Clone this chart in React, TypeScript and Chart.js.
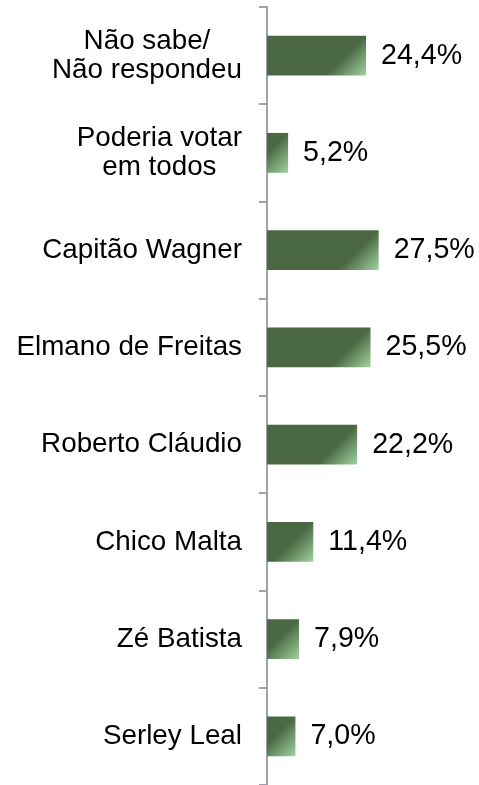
import React, { useEffect, useRef } from "react";
import { Chart, registerables } from "chart.js";

Chart.register(...registerables);

const CATEGORIES: string[][] = [
  ["Não sabe/", "Não respondeu"],
  ["Poderia votar", "em todos"],
  ["Capitão Wagner"],
  ["Elmano de Freitas"],
  ["Roberto Cláudio"],
  ["Chico Malta"],
  ["Zé Batista"],
  ["Serley Leal"],
];
const VALUES: number[] = [24.4, 5.2, 27.5, 25.5, 22.2, 11.4, 7.9, 7.0];
const VALUE_LABELS: string[] = ["24,4%", "5,2%", "27,5%", "25,5%", "22,2%", "11,4%", "7,9%", "7,0%"];

const FONT_FAMILY = "'Liberation Sans', Arial, sans-serif";
const FONT_SIZE = 27.8;
const VALUE_FONT_SIZE = 28.6;
const LINE_HEIGHT = 29;
const DARK = "#4a6843";
const LIGHT = "#a2d4a0";
const AXIS_COLOR = "#9ea3ab";

export default function App() {
  const canvasRef = useRef<HTMLCanvasElement | null>(null);

  useEffect(() => {
    const canvas = canvasRef.current;
    if (!canvas) return;

    const labelsPlugin = {
      id: "customLabels",
      afterDatasetsDraw(chart: any) {
        const ctx = chart.ctx;
        const yScale = chart.scales.y;
        ctx.save();
        ctx.font = `${FONT_SIZE}px ${FONT_FAMILY}`;
        ctx.fillStyle = "#000000";
        ctx.textBaseline = "middle";
        const rightX = yScale.right - 8 - 17;
        CATEGORIES.forEach((lines, i) => {
          const yc = yScale.getPixelForValue(i);
          const widths = lines.map((l) => ctx.measureText(l).width);
          const w = Math.max(...widths);
          const cx = rightX - w / 2;
          ctx.textAlign = "center";
          lines.forEach((l, k) => {
            const y = yc + (k - (lines.length - 1) / 2) * LINE_HEIGHT;
            ctx.fillText(l, cx, y);
          });
        });
        const meta = chart.getDatasetMeta(0);
        ctx.font = `${VALUE_FONT_SIZE}px ${FONT_FAMILY}`;
        ctx.textAlign = "left";
        meta.data.forEach((bar: any, i: number) => {
          ctx.fillText(VALUE_LABELS[i], bar.x + 15, bar.y);
        });
        ctx.restore();
      },
    };

    const chart = new Chart(canvas, {
      type: "bar",
      data: {
        labels: CATEGORIES,
        datasets: [
          {
            data: VALUES,
            categoryPercentage: 1,
            barPercentage: 0.41,
            borderWidth: 0,
            backgroundColor: (context: any) => {
              const c = context.chart;
              const xs = c.scales?.x;
              const ys = c.scales?.y;
              if (!c.chartArea || !xs || !ys || context.raw == null) return DARK;
              const x1 = xs.getPixelForValue(context.raw);
              const yc = ys.getPixelForValue(context.dataIndex);
              const y1 = yc + 20;
              const g = c.ctx.createLinearGradient(x1 - 24, y1 - 24, x1, y1);
              g.addColorStop(0, DARK);
              g.addColorStop(0.15, DARK);
              g.addColorStop(1, LIGHT);
              return g;
            },
          },
        ],
      },
      options: {
        indexAxis: "y",
        animation: false,
        responsive: false,
        maintainAspectRatio: false,
        layout: { padding: { top: 7, bottom: 0, left: 0, right: 9 } },
        plugins: {
          legend: { display: false },
          tooltip: { enabled: false },
          title: { display: false },
        },
        scales: {
          x: {
            display: false,
            min: 0,
            max: 50,
          },
          y: {
            afterFit: (scale: any) => {
              scale.width = 267;
              scale.paddingTop = 0;
              scale.paddingBottom = 0;
            },
            grid: {
              display: true,
              drawOnChartArea: false,
              drawTicks: true,
              tickLength: 8,
              color: AXIS_COLOR,
              lineWidth: 2,
              offset: true,
            },
            border: { display: true, color: AXIS_COLOR, width: 2 },
            ticks: {
              display: false,
            },
          },
        },
      },
      plugins: [labelsPlugin],
    } as any);

    return () => {
      chart.destroy();
    };
  }, []);

  return (
    <div
      style={{
        position: "fixed",
        left: 0,
        top: 0,
        width: 479,
        height: 785,
        overflow: "hidden",
        background: "#ffffff",
      }}
    >
      <canvas ref={canvasRef} width={479} height={785} style={{ display: "block" }} />
    </div>
  );
}
